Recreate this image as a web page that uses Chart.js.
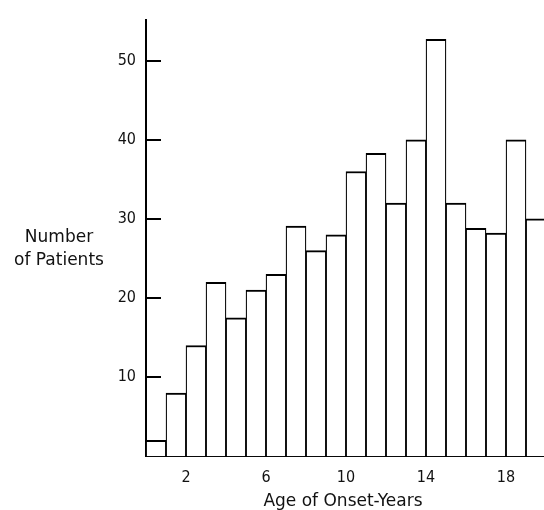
<!DOCTYPE html>
<html>
<head>
<meta charset="utf-8">
<script src="https://cdn.jsdelivr.net/npm/chart.js@4/dist/chart.umd.min.js"></script>
<style>
  body { margin: 0; background: #fff; }
  #wrap { width: 544px; height: 510px; }
</style>
</head>
<body>
<div id="wrap"><canvas id="hist" width="544" height="510"></canvas></div>
<script>
// Age of onset (years) - each bar covers [age-1, age]
var ages = [1, 2, 3, 4, 5, 6, 7, 8, 9, 10, 11, 12, 13, 14, 15, 16, 17, 18, 19, 20];
// Number of patients
var patients = [2, 8, 14, 22, 17.5, 21, 23, 29.1, 26, 28, 36, 38.3, 32, 40, 52.7, 32, 28.8, 28.2, 40, 30];
// tick labels
var xTicks = [2, 6, 10, 14, 18];
var yTicks = [10, 20, 30, 40, 50];

var ink = '#000';

// y ticks point inward, and the axis titles are drawn flat
var axisExtras = {
    id: 'axisExtras',
    afterDraw: function (chart) {
        var ctx = chart.ctx;
        var y = chart.scales.y;
        var area = chart.chartArea;
        ctx.save();
        ctx.strokeStyle = ink;
        ctx.lineWidth = 2;
        yTicks.forEach(function (v) {
            var py = Math.round(y.getPixelForValue(v));
            ctx.beginPath();
            ctx.moveTo(area.left, py);
            ctx.lineTo(area.left + 15, py);
            ctx.stroke();
        });
        ctx.fillStyle = '#111';
        ctx.font = '17px "DejaVu Sans"';
        ctx.textAlign = 'center';
        ctx.textBaseline = 'alphabetic';
        ctx.fillText('Number', 59, 242);
        ctx.fillText('of Patients', 59, 265);
        ctx.fillText('Age of Onset-Years', 343, 506);
        ctx.restore();
    }
};

var tickFont = { family: '"DejaVu Sans Condensed", "DejaVu Sans", sans-serif', size: 16 };

var chart = new Chart(document.getElementById('hist').getContext('2d'), {
    type: 'bar',
    data: {
        datasets: [{
            data: ages.map(function (a, i) { return { x: a - 0.5, y: patients[i] }; }),
            backgroundColor: '#fff',
            borderColor: ink,
            borderWidth: { top: 2, left: 1.25, right: 1.25, bottom: 0 },
            borderSkipped: false,
            barPercentage: 1,
            categoryPercentage: 1
        }]
    },
    options: {
        responsive: false,
        animation: false,
        layout: { padding: { top: 13, left: 0, right: 0, bottom: 0 } },
        plugins: { legend: { display: false }, tooltip: { enabled: false } },
        scales: {
            x: {
                type: 'linear',
                min: 0,
                max: 19.9,
                offset: false,
                grid: { display: false, drawTicks: false, offset: false },
                border: { display: true, color: ink, width: 2 },
                ticks: { color: '#111', font: tickFont, padding: 12, maxRotation: 0 },
                afterBuildTicks: function (scale) {
                    scale.ticks = xTicks.map(function (v) { return { value: v }; });
                },
                afterFit: function (scale) { scale.height = 53.75; }
            },
            y: {
                min: 0,
                max: 55.2,
                grid: { display: false, drawTicks: false },
                border: { display: true, color: ink, width: 2 },
                ticks: { color: '#111', font: tickFont, padding: 10 },
                afterBuildTicks: function (scale) {
                    scale.ticks = yTicks.map(function (v) { return { value: v }; });
                },
                afterFit: function (scale) { scale.width = 146; }
            }
        }
    },
    plugins: [axisExtras]
});
</script>
</body>
</html>
